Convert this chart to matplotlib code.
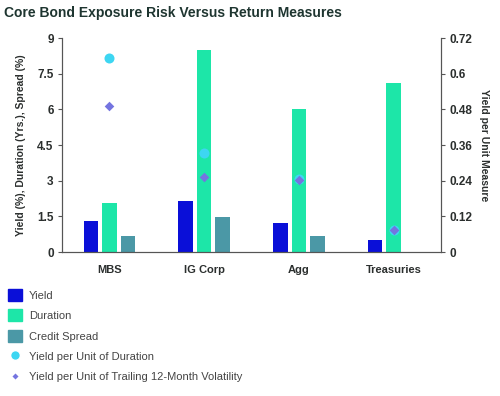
import numpy as np
import matplotlib.pyplot as plt
from matplotlib.lines import Line2D
from matplotlib.patches import Patch

categories = ['MBS', 'IG Corp', 'Agg', 'Treasuries']
yield_vals = [1.32, 2.13, 1.21, 0.50]
duration_vals = [2.05, 8.5, 6.01, 7.11]
spread_vals = [0.66, 1.46, 0.66, 0.0]
ypu_duration = [0.652, 0.332, 0.245, 0.074]
ypu_vol = [0.491, 0.252, 0.242, 0.074]

c_yield = '#0a0fd8'
c_dur = '#1de6a8'
c_spread = '#4b98a6'
c_circ = '#3dd6f2'
c_diam = '#7474e0'
txt = '#2b2f2e'

plt.rcParams['font.family'] = ['Liberation Sans', 'DejaVu Sans']

fig = plt.figure(figsize=(5, 3.96), dpi=100)
ax = fig.add_axes([0.124, 0.3636, 0.758, 0.5404])
ax2 = ax.twinx()

x = np.arange(len(categories))
w = 0.155
step = 0.195
ax.bar(x - step, yield_vals, w, color=c_yield, zorder=2)
ax.bar(x, duration_vals, w, color=c_dur, zorder=2)
ax.bar(x + step, spread_vals, w, color=c_spread, zorder=2)

ax2.scatter(x, ypu_duration, s=52, color=c_circ, marker='o', zorder=3, linewidths=0)
ax2.scatter(x, ypu_vol, s=24, color=c_diam, marker='D', zorder=4, linewidths=0)

ax.set_xlim(-0.5, 3.5)
ax.set_ylim(0, 9)
ax.set_yticks([0, 1.5, 3, 4.5, 6, 7.5, 9])
ax.set_yticklabels(['0', '1.5', '3', '4.5', '6', '7.5', '9'])
ax2.set_ylim(0, 0.72)
ax2.set_yticks([0, 0.12, 0.24, 0.36, 0.48, 0.6, 0.72])
ax2.set_yticklabels(['0', '0.12', '0.24', '0.36', '0.48', '0.6', '0.72'])
ax.set_xticks(x)
ax.set_xticklabels(categories)

for a in (ax, ax2):
    a.spines['top'].set_visible(False)
    for s in ('left', 'right', 'bottom'):
        a.spines[s].set_color('#555555')
        a.spines[s].set_linewidth(0.8)
    a.tick_params(axis='y', length=3, width=0.8, color='#555555', labelsize=8.5,
                  labelcolor=txt, pad=3)
    for lab in a.get_yticklabels():
        lab.set_fontweight('bold')
ax.tick_params(axis='x', length=0, labelsize=8, labelcolor=txt, pad=9)
for lab in ax.get_xticklabels():
    lab.set_fontweight('bold')

ax.set_ylabel('Yield (%), Duration (Yrs.), Spread (%)', fontsize=7.5,
              fontweight='bold', color=txt, labelpad=8)
ax2.set_ylabel('Yield per Unit Measure', fontsize=7.5, fontweight='bold',
               color=txt, rotation=270, labelpad=12)

fig.text(0.008, 0.968, 'Core Bond Exposure Risk Versus Return Measures',
         fontsize=10, fontweight='bold', color='#1e3530', va='center')

handles = [
    Patch(color=c_yield),
    Patch(color=c_dur),
    Patch(color=c_spread),
    Line2D([], [], marker='o', color='w', markerfacecolor=c_circ, markersize=7),
    Line2D([], [], marker='D', color='w', markerfacecolor=c_diam, markersize=4.5),
]
labels = ['Yield', 'Duration', 'Credit Spread', 'Yield per Unit of Duration',
          'Yield per Unit of Trailing 12-Month Volatility']
fig.legend(handles, labels, loc='upper left', bbox_to_anchor=(0.0, 0.29),
           frameon=False, fontsize=8, labelcolor='#444444', handlelength=1.3,
           handleheight=1.3, labelspacing=0.75, handletextpad=0.6,
           borderaxespad=0.3)

fig.savefig('out.png', dpi=100)
